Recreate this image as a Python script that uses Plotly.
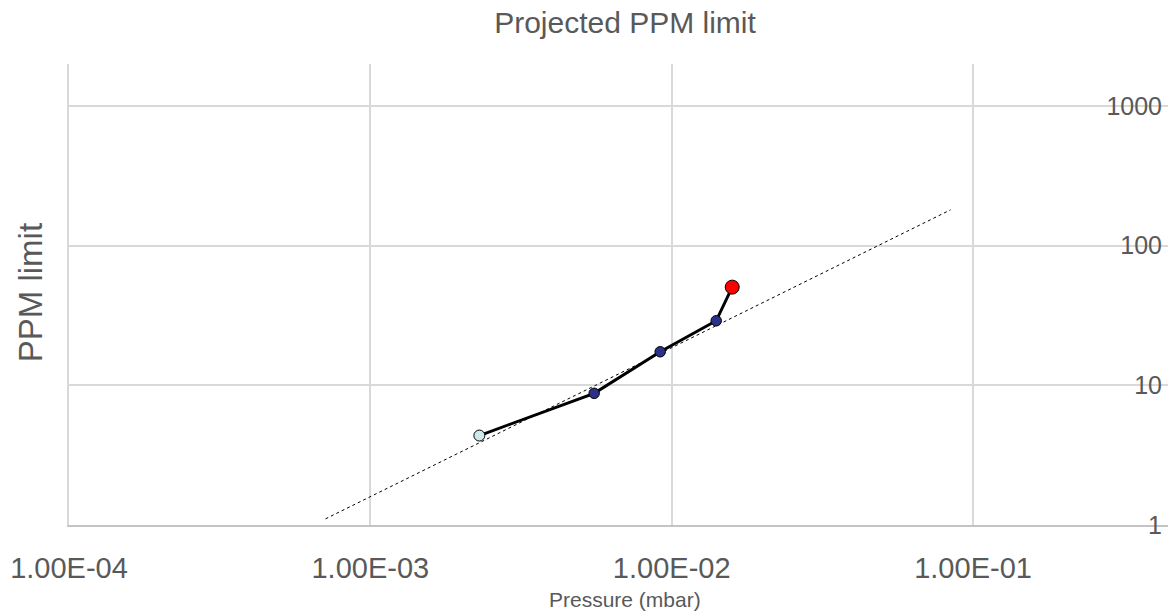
import plotly.graph_objects as go

# Data
pressure = [0.00230, 0.00553, 0.00916, 0.01405, 0.01588]
ppm_limit = [4.37, 8.77, 17.4, 29.0, 50.5]
point_colors = ["#cde9e9", "#2b3188", "#2b3188", "#2b3188", "#ff0000"]
point_sizes = [11, 10.5, 10.5, 10.5, 14]

trend_x = [0.000710, 0.0842]
trend_y = [1.107, 180.6]

x_tickvals = [1e-4, 1e-3, 1e-2, 1e-1]
x_ticktext = ["1.00E-04", "1.00E-03", "1.00E-02", "1.00E-01"]
y_tickvals = [1, 10, 100, 1000]
y_ticktext = ["1", "10", "100", "1000"]

W, H = 1168, 612
L, R, T, B = 68.5, 0, 64, 612 - 525.5
FONT = "Liberation Sans, Arial, sans-serif"
GREY = "#595959"
GRID = "#d9d9d9"
X_RANGE = [-4, -0.353]
Y_RANGE = [0, 3.301]

pw, ph = W - L - R, H - T - B

fig = go.Figure()

fig.add_trace(go.Scatter(
    x=trend_x, y=trend_y, mode="lines",
    line=dict(color="black", width=1, dash="3px,3px"),
    showlegend=False, hoverinfo="skip"))

fig.add_trace(go.Scatter(
    x=pressure, y=ppm_limit, mode="lines+markers",
    line=dict(color="black", width=3),
    marker=dict(color=point_colors, size=point_sizes, opacity=1,
                line=dict(color="black", width=1)),
    showlegend=False))

# invisible helper trace on the label axis
fig.add_trace(go.Scatter(
    x=[pressure[0]], y=[ppm_limit[0]], yaxis="y2", mode="markers",
    marker=dict(opacity=0), showlegend=False, hoverinfo="skip"))

fig.update_layout(
    width=W, height=H,
    margin=dict(l=L, r=R, t=T, b=B, pad=0, autoexpand=False),
    paper_bgcolor="white", plot_bgcolor="white",
    font=dict(family=FONT, color=GREY),
    title=dict(text="Projected PPM limit", x=625 / W, xref="container",
               xanchor="center", y=1 - 12 / H, yanchor="top",
               font=dict(size=30, color=GREY, family=FONT)),
    xaxis=dict(type="log", range=X_RANGE,
               tickvals=x_tickvals, ticktext=x_ticktext,
               tickfont=dict(size=29, color=GREY),
               showgrid=True, gridcolor=GRID, gridwidth=1.5,
               zeroline=False, showline=True, linecolor="#c4c4c4", linewidth=1.5,
               ticks="", ticklabelstandoff=16),
    yaxis=dict(type="log", range=Y_RANGE, side="left",
               tickvals=y_tickvals, showticklabels=False,
               showgrid=True, gridcolor=GRID, gridwidth=1.5,
               zeroline=False, showline=True, linecolor=GRID, linewidth=1.5,
               ticks=""),
    yaxis2=dict(type="log", range=Y_RANGE, overlaying="y", side="left",
                anchor="free", position=(1162 - L) / pw,
                tickvals=y_tickvals, ticktext=y_ticktext,
                tickfont=dict(size=25, color=GREY),
                showgrid=False, zeroline=False, showline=False, ticks=""),
    annotations=[
        dict(text="PPM limit", textangle=-90, showarrow=False,
             xref="paper", yref="paper",
             x=(30 - L) / pw, y=(H - B - 293) / ph,
             xanchor="center", yanchor="middle",
             font=dict(size=33, color=GREY, family=FONT)),
        dict(text="Pressure (mbar)", showarrow=False,
             xref="paper", yref="paper",
             x=(625 - L) / pw, y=(H - B - 600) / ph,
             xanchor="center", yanchor="middle",
             font=dict(size=21, color=GREY, family=FONT)),
    ],
)

# remove the browser's default body margin so the figure fills the window exactly
fig.write_html("out.html", config={"displayModeBar": False},
               post_script="document.body.style.margin='0';")
